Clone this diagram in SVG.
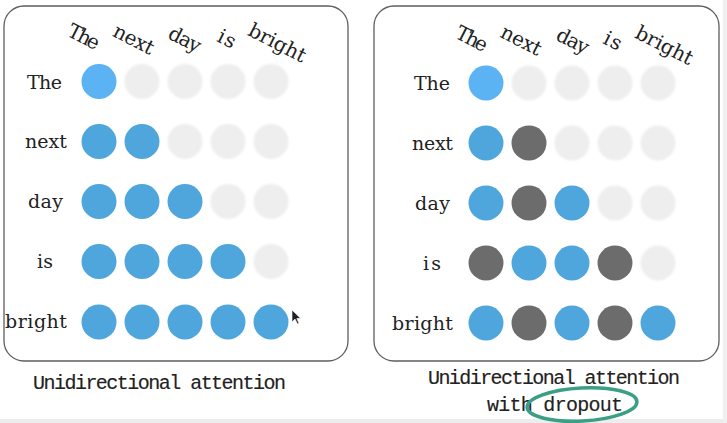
<svg xmlns="http://www.w3.org/2000/svg" width="727" height="423" viewBox="0 0 727 423">
<defs>
<filter id="blur" x="-30%" y="-30%" width="160%" height="160%"><feGaussianBlur stdDeviation="1.2"/></filter>
<style>
.box{fill:#fff;stroke:#5e5e5e;stroke-width:1.3}
.lbl{font-family:"DejaVu Serif","Liberation Serif",serif;font-size:19px;fill:#222}
.hdr{font-family:"DejaVu Serif","Liberation Serif",serif;font-size:20px;fill:#222;text-anchor:middle}
.cap{font-family:"Liberation Mono","DejaVu Sans Mono",monospace;font-size:20px;fill:#222;stroke:#222;stroke-width:0.15;text-anchor:middle}
.B{fill:#4fa6dc}
.LB{fill:#5bb3f4}
.D{fill:#6c6c6c}
.L{fill:#eeeeee;filter:url(#blur)}
</style>
</defs>
<rect width="727" height="423" fill="#fff"/>
<rect x="0" y="419" width="727" height="4" fill="#ededed"/>
<rect x="723" y="0" width="4" height="423" fill="#f0f0f0"/>

<g id="panel-left">
<rect class="box" x="4" y="6" width="344" height="355" rx="20"/>
<g id="left-headers">
<text class="hdr" transform="translate(83.5,37.5) rotate(27)" y="6" textLength="33">The</text>
<text class="hdr" transform="translate(133.5,40) rotate(27)" y="6" textLength="43">next</text>
<text class="hdr" transform="translate(184.5,40) rotate(27)" y="6" textLength="34">day</text>
<text class="hdr" transform="translate(226.5,39.5) rotate(27)" y="6" textLength="18">is</text>
<text class="hdr" transform="translate(277,43.5) rotate(27)" y="6" textLength="62">bright</text>
</g>
<g id="left-rows">
<text class="lbl" x="27" y="88.5" textLength="35">The</text>
<text class="lbl" x="25" y="148" textLength="42">next</text>
<text class="lbl" x="28" y="208" textLength="35">day</text>
<text class="lbl" x="37" y="268" textLength="16">is</text>
<text class="lbl" x="5" y="328" textLength="62">bright</text>
</g>
<g id="left-grid">
<circle class="LB" cx="99" cy="81.5" r="17.5"/><circle class="L" cx="142" cy="81.5" r="17.5"/><circle class="L" cx="185" cy="81.5" r="17.5"/><circle class="L" cx="228" cy="81.5" r="17.5"/><circle class="L" cx="271" cy="81.5" r="17.5"/>
<circle class="B" cx="99" cy="141.5" r="17.5"/><circle class="B" cx="142" cy="141.5" r="17.5"/><circle class="L" cx="185" cy="141.5" r="17.5"/><circle class="L" cx="228" cy="141.5" r="17.5"/><circle class="L" cx="271" cy="141.5" r="17.5"/>
<circle class="B" cx="99" cy="201.5" r="17.5"/><circle class="B" cx="142" cy="201.5" r="17.5"/><circle class="B" cx="185" cy="201.5" r="17.5"/><circle class="L" cx="228" cy="201.5" r="17.5"/><circle class="L" cx="271" cy="201.5" r="17.5"/>
<circle class="B" cx="99" cy="261.5" r="17.5"/><circle class="B" cx="142" cy="261.5" r="17.5"/><circle class="B" cx="185" cy="261.5" r="17.5"/><circle class="B" cx="228" cy="261.5" r="17.5"/><circle class="L" cx="271" cy="261.5" r="17.5"/>
<circle class="B" cx="99" cy="322" r="17.5"/><circle class="B" cx="142" cy="322" r="17.5"/><circle class="B" cx="185" cy="322" r="17.5"/><circle class="B" cx="228" cy="322" r="17.5"/><circle class="B" cx="271" cy="322" r="17.5"/>
</g>
<path d="M292,310 L292,322 L295,319 L297.5,324 L299,323.3 L296.8,318.5 L300.5,318.3 Z" fill="#222" stroke="#fff" stroke-width="0.6"/>
</g>
<text id="caption-left" class="cap" x="159.5" y="389" textLength="253">Unidirectional attention</text>

<g id="panel-right">
<rect class="box" x="374" y="6" width="345" height="355" rx="20"/>
<g id="right-headers">
<text class="hdr" transform="translate(471.5,39.5) rotate(27)" y="6" textLength="33">The</text>
<text class="hdr" transform="translate(521,41) rotate(27)" y="6" textLength="43">next</text>
<text class="hdr" transform="translate(572.5,41.5) rotate(27)" y="6" textLength="34">day</text>
<text class="hdr" transform="translate(612.5,41.5) rotate(27)" y="6" textLength="18">is</text>
<text class="hdr" transform="translate(664,46) rotate(27)" y="6" textLength="62">bright</text>
</g>
<g id="right-rows">
<text class="lbl" x="414" y="90" textLength="36">The</text>
<text class="lbl" x="412" y="149.5" textLength="41">next</text>
<text class="lbl" x="415" y="209.5" textLength="35">day</text>
<text class="lbl" x="423" y="269.5" textLength="18">is</text>
<text class="lbl" x="392" y="329.5" textLength="61">bright</text>
</g>
<g id="right-grid">
<circle class="LB" cx="486" cy="83" r="17.5"/><circle class="L" cx="529" cy="83" r="17.5"/><circle class="L" cx="572" cy="83" r="17.5"/><circle class="L" cx="615" cy="83" r="17.5"/><circle class="L" cx="658" cy="83" r="17.5"/>
<circle class="B" cx="486" cy="143" r="17.5"/><circle class="D" cx="529" cy="143" r="17.5"/><circle class="L" cx="572" cy="143" r="17.5"/><circle class="L" cx="615" cy="143" r="17.5"/><circle class="L" cx="658" cy="143" r="17.5"/>
<circle class="B" cx="486" cy="203" r="17.5"/><circle class="D" cx="529" cy="203" r="17.5"/><circle class="B" cx="572" cy="203" r="17.5"/><circle class="L" cx="615" cy="203" r="17.5"/><circle class="L" cx="658" cy="203" r="17.5"/>
<circle class="D" cx="486" cy="263" r="17.5"/><circle class="B" cx="529" cy="263" r="17.5"/><circle class="B" cx="572" cy="263" r="17.5"/><circle class="D" cx="615" cy="263" r="17.5"/><circle class="L" cx="658" cy="263" r="17.5"/>
<circle class="B" cx="486" cy="323" r="17.5"/><circle class="D" cx="529" cy="323" r="17.5"/><circle class="B" cx="572" cy="323" r="17.5"/><circle class="D" cx="615" cy="323" r="17.5"/><circle class="B" cx="658" cy="323" r="17.5"/>
</g>
</g>
<g id="caption-right">
<text class="cap" x="554" y="384" textLength="252">Unidirectional attention</text>
<text class="cap" x="555" y="411" textLength="136">with dropout</text>
<ellipse cx="582" cy="404.5" rx="55" ry="16.5" transform="rotate(-3 582 404.5)" fill="none" stroke="#3a9f84" stroke-width="3.5"/>
</g>
</svg>
